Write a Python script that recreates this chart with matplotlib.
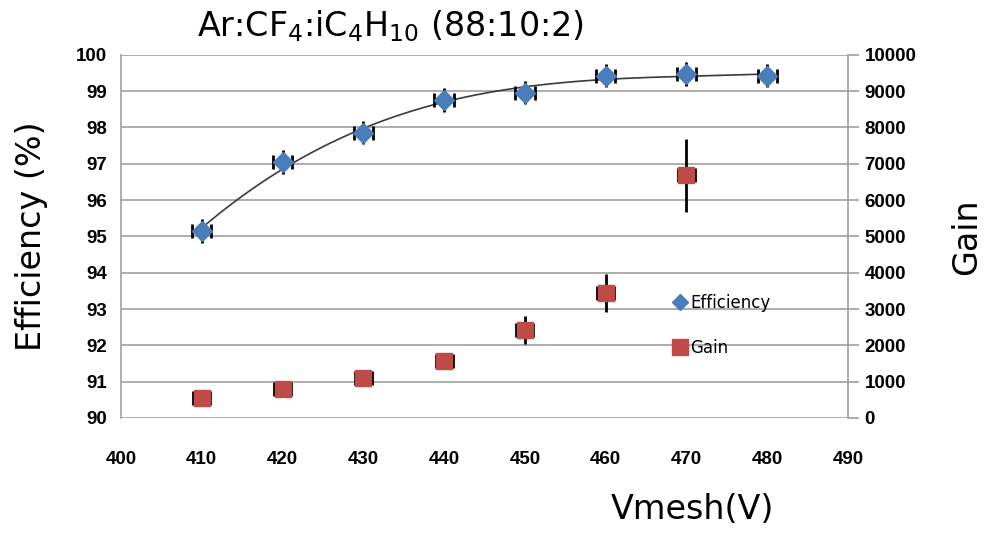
import matplotlib.pyplot as plt
import numpy as np

# data
vmesh = [410, 420, 430, 440, 450, 460, 470, 480]
efficiency = [95.15, 97.05, 97.85, 98.75, 98.95, 99.42, 99.47, 99.42]
eff_err = [0.32, 0.32, 0.32, 0.32, 0.32, 0.32, 0.32, 0.32]
vmesh_err = [1.2, 1.2, 1.2, 1.2, 1.2, 1.2, 1.2, 1.2]

vmesh_gain = [410, 420, 430, 440, 450, 460, 470]
gain = [560, 800, 1100, 1580, 2430, 3430, 6680]
gain_err = [100, 120, 120, 200, 380, 520, 1000]
gain_xerr = [1.05, 1.05, 1.05, 1.05, 1.05, 1.05, 1.05]

x_ticks = list(range(400, 491, 10))
eff_ticks = list(range(90, 101))
gain_ticks = list(range(0, 10001, 1000))

blue = '#4a7ebb'
red = '#be4b48'
grid_col = '#a0a0a0'

fig = plt.figure(figsize=(10, 5.39), dpi=100)
ax = fig.add_axes([0.121, 0.2245, 0.727, 0.674])
ax2 = ax.twinx()

# gridlines
for t in eff_ticks:
    ax.axhline(t, color=grid_col, linewidth=1.2, zorder=0)

# trend line (3rd order fit on efficiency)
coef = np.polyfit(vmesh, efficiency, 3)
xf = np.linspace(vmesh[0], vmesh[-1], 200)
ax.plot(xf, np.polyval(coef, xf), color='#3a3a3a', linewidth=1.2, zorder=2)

# error bars: vertical without caps, horizontal with caps
ax.errorbar(vmesh, efficiency, yerr=eff_err, fmt='none', ecolor='black',
            elinewidth=2, capsize=0, zorder=2.5)
ax.errorbar(vmesh, efficiency, xerr=vmesh_err, fmt='none', ecolor='black',
            elinewidth=2, capsize=5, capthick=2, zorder=2.5)
ax.plot(vmesh, efficiency, 'D', color=blue, markersize=10, zorder=3)

ax2.errorbar(vmesh_gain, gain, yerr=gain_err, fmt='none', ecolor='black',
             elinewidth=2, capsize=0, zorder=2.5)
ax2.errorbar(vmesh_gain, gain, xerr=gain_xerr, fmt='none', ecolor='black',
             elinewidth=2, capsize=5, capthick=2, zorder=2.5)
ax2.plot(vmesh_gain, gain, 's', color=red, markersize=12, zorder=3)

ax.set_xlim(400, 490)
ax.set_ylim(90, 100)
ax2.set_ylim(0, 10000)
ax.set_xticks(x_ticks)
ax.set_yticks(eff_ticks)
ax2.set_yticks(gain_ticks)

for a in (ax, ax2):
    for s in a.spines.values():
        s.set_visible(False)
ax.spines['left'].set_visible(True)
ax.spines['left'].set_color(grid_col)
ax.spines['left'].set_linewidth(1.2)
ax2.spines['right'].set_visible(True)
ax2.spines['right'].set_color(grid_col)
ax2.spines['right'].set_linewidth(1.2)

ax.tick_params(axis='y', length=0, pad=10, labelsize=13.5)
ax.tick_params(axis='x', length=0, pad=24, labelsize=13.5)
ax2.tick_params(axis='y', length=8, color=grid_col, width=1.2, pad=4, labelsize=13.5)
for lab in ax.get_xticklabels() + ax.get_yticklabels() + ax2.get_yticklabels():
    lab.set_fontweight('bold')
    lab.set_family('Liberation Sans')

ax.set_ylabel('Efficiency (%)', fontsize=24, labelpad=20)
ax2.set_ylabel('Gain', fontsize=24, labelpad=24)
fig.text(0.692, 0.038, 'Vmesh(V)', fontsize=24, ha='center')
fig.text(0.39, 0.952, r'Ar:CF$_4$:iC$_4$H$_{10}$ (88:10:2)', fontsize=24, ha='center',
         va='center')

# legend
h1 = plt.Line2D([], [], marker='D', color=blue, linestyle='none', markersize=8)
h2 = plt.Line2D([], [], marker='s', color=red, linestyle='none', markersize=11)
ax2.legend([h1, h2], ['Efficiency', 'Gain'], loc='center left',
           bbox_to_anchor=(0.735, 0.255), frameon=False, fontsize=12,
           handletextpad=0.0, labelspacing=1.6, handlelength=1.2)

fig.savefig('out.png', dpi=100)
